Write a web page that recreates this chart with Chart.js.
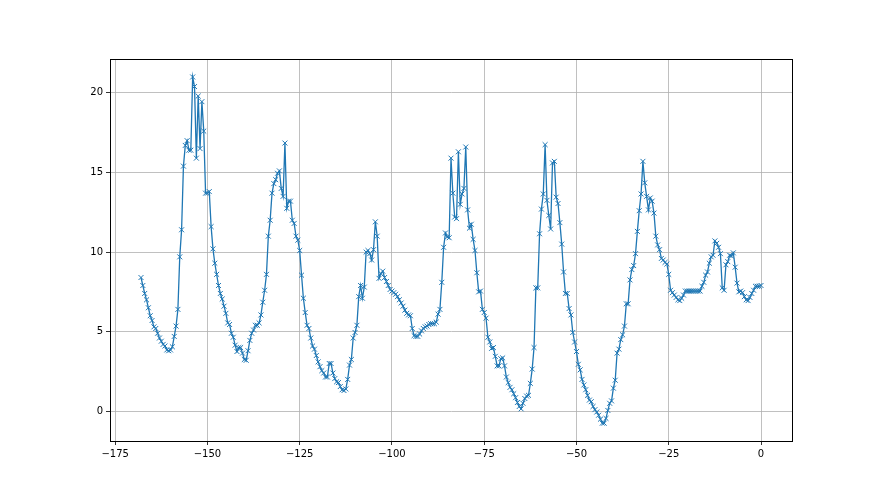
<!DOCTYPE html>
<html>
<head>
<meta charset="utf-8">
<script src="https://cdn.jsdelivr.net/npm/chart.js@4.4.1/dist/chart.umd.min.js"></script>
<style>
  html, body { margin: 0; padding: 0; background: #fff; }
  canvas { display: block; }
</style>
</head>
<body>
<canvas id="chart" width="880" height="495"></canvas>
<script>
// one reading every half unit, oldest first, from -168 up to 0
const readings = [
  8.4, 7.9, 7.4, 7.0, 6.5, 6.0, 5.7, 5.3, 5.2, 4.9,
  4.6, 4.4, 4.2, 4.1, 3.85, 3.8, 3.85, 4.05, 4.7, 5.35,
  6.4, 9.7, 11.4, 15.4, 16.7, 17.0, 16.4, 16.4, 21.0, 20.4,
  15.9, 19.8, 16.5, 19.45, 17.6, 13.7, 13.7, 13.8, 11.6, 10.2,
  9.3, 8.6, 7.9, 7.4, 7.05, 6.6, 6.15, 5.55,
  5.45, 4.9, 4.65, 4.15, 3.75, 4.0, 4.0, 3.65, 3.25, 3.2, 3.8,
  4.45, 4.9, 5.1, 5.4, 5.4, 5.55, 6.05, 6.85, 7.6, 8.6,
  11.0, 12.0, 13.7, 14.3, 14.55, 14.95, 15.1, 14.0, 13.5, 16.85,
  12.75, 13.2, 13.2, 12.0, 11.8, 11.0, 10.75, 10.1, 8.55, 7.1,
  6.2, 5.4, 5.2, 4.6, 4.1, 3.9, 3.5, 3.1,
  2.8, 2.55, 2.4, 2.15, 2.15, 3.0, 3.0, 2.4, 2.05, 1.85,
  1.8, 1.55, 1.35, 1.3, 1.4, 2.0, 2.9, 3.25, 4.6, 4.95, 5.4,
  7.2, 7.9, 7.1, 7.8, 10.0, 10.1, 9.9, 9.5, 10.15, 11.9,
  11.0, 8.35, 8.65, 8.8, 8.4, 8.15, 7.9, 7.65, 7.55, 7.45, 7.35,
  7.2, 7.0, 6.8, 6.6, 6.35, 6.15, 6.05,
  6.0, 5.2, 4.75, 4.7, 4.7, 4.85, 5.05, 5.2, 5.3, 5.35, 5.45,
  5.5, 5.5, 5.5, 5.6, 6.1, 6.4, 8.1, 10.3, 11.2, 10.95, 10.9,
  15.9, 13.7, 12.2, 12.1, 16.3, 13.0, 13.65, 14.0, 16.6, 12.65, 11.5,
  11.75, 10.8, 10.1, 8.7, 7.5, 7.55, 6.4, 6.2, 5.85, 4.65,
  4.35, 3.95,
  4.0, 3.45, 2.85, 2.85, 3.3, 3.35, 2.85, 2.15, 1.8, 1.5, 1.35,
  1.1, 0.85, 0.55, 0.3, 0.15, 0.5, 0.8, 0.95, 1.0, 1.75, 2.65, 4.0,
  7.75, 7.75, 11.15, 12.7, 13.65, 16.75, 13.25, 12.3, 11.45, 15.6,
  15.7, 13.45, 13.05, 11.85, 10.5, 8.75, 7.4, 7.4, 6.45, 6.05,
  4.95, 4.35, 3.75, 2.95, 2.6, 2.0, 1.65, 1.35, 1.0, 0.7,
  0.6, 0.3, 0.1, -0.05, -0.25, -0.5, -0.75, -0.75, -0.45, 0.05,
  0.5, 0.65, 1.45, 1.95, 3.65, 3.9, 4.5, 4.8, 5.35, 6.75,
  6.75, 8.25, 8.9, 9.15, 9.9, 11.3, 12.6, 13.65, 15.7, 14.35,
  13.5, 12.65, 13.4, 13.2, 12.45, 11.0, 10.45, 10.15, 9.6, 9.5,
  9.35, 9.25, 8.6, 7.6, 7.45, 7.3, 7.15, 7.0, 6.95, 7.1,
  7.3, 7.55, 7.55, 7.55, 7.55, 7.55, 7.55, 7.55, 7.55, 7.55,
  7.85, 8.1, 8.55, 8.75, 9.3, 9.7, 9.8, 10.7, 10.55, 10.3,
  9.9, 7.75, 7.6, 9.2, 9.4, 9.8, 9.75, 9.95, 9.05, 8.05,
  7.5, 7.55, 7.45, 7.2, 7.0, 6.95, 7.15, 7.4, 7.6, 7.85, 7.85, 7.85, 7.9
];
const startHour = -168;
const step = 0.5;
const hoursBack = readings.map((_, i) => startHour + i * step);
const xTicks = [-175, -150, -125, -100, -75, -50, -25, 0];
const yTicks = [0, 5, 10, 15, 20];

const minus = (v) => String(v).replace('-', '\u2212');
const tickFont = { family: 'DejaVu Sans', size: 10 };

// matplotlib style box around the plot
const frame = {
  id: 'frame',
  afterDraw(chart){
    const { ctx, chartArea: a } = chart;
    ctx.save();
    ctx.strokeStyle = '#000';
    ctx.lineWidth = 1;
    ctx.strokeRect(Math.round(a.left) + 0.5, Math.round(a.top) + 0.5,
                   Math.round(a.right - a.left), Math.round(a.bottom - a.top));
    ctx.restore();
  }
};

new Chart(document.getElementById('chart'), {
  type: 'line',
  data: {
    datasets: [{
      data: hoursBack.map((x, i) => ({ x, y: readings[i] })),
      borderColor: '#1f77b4',
      borderWidth: 1.3,
      pointStyle: 'crossRot',
      pointRadius: 3.5,
      pointBorderWidth: 1,
      pointBorderColor: '#1f77b4',
      pointBackgroundColor: '#1f77b4',
      tension: 0,
      fill: false
    }]
  },
  options: {
    responsive: false,
    devicePixelRatio: 1,
    animation: false,
    layout: { padding: { top: 59, right: 88, bottom: 0, left: 0 } },
    plugins: { legend: { display: false }, tooltip: { enabled: false } },
    scales: {
      x: {
        type: 'linear',
        min: -176.4,
        max: 8.4,
        afterBuildTicks: (s) => { s.ticks = xTicks.map(v => ({ value: v })); },
        afterFit: (s) => { s.height = 54; },
        grid: { color: '#b0b0b0', lineWidth: 0.8, tickColor: '#000', tickLength: 4 },
        border: { color: '#000', width: 1 },
        ticks: { color: '#000', font: tickFont, padding: 3, maxRotation: 0, callback: minus }
      },
      y: {
        type: 'linear',
        min: -1.87,
        max: 22.13,
        afterBuildTicks: (s) => { s.ticks = yTicks.map(v => ({ value: v })); },
        afterFit: (s) => { s.width = 110; },
        grid: { color: '#b0b0b0', lineWidth: 0.8, tickColor: '#000', tickLength: 4 },
        border: { color: '#000', width: 1 },
        ticks: { color: '#000', font: tickFont, padding: 3, callback: minus }
      }
    }
  },
  plugins: [frame]
});
</script>
</body>
</html>
